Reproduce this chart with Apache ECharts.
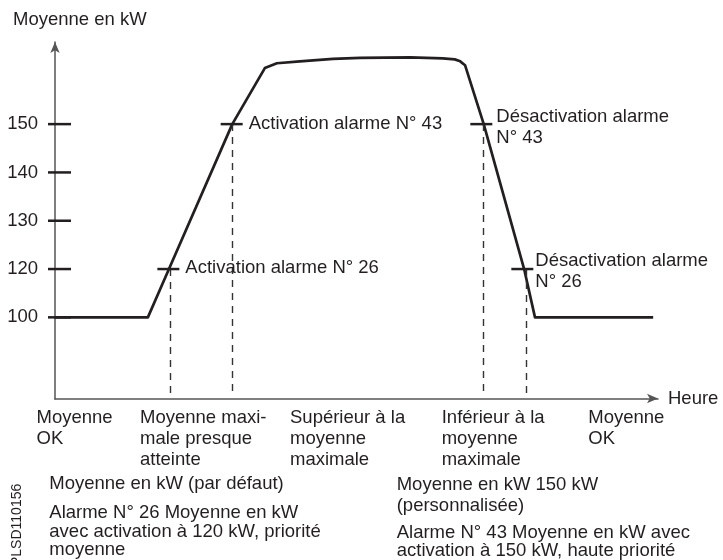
<!DOCTYPE html>
<html>
<head>
<meta charset="utf-8">
<script src="https://cdn.jsdelivr.net/npm/echarts@6/dist/echarts.min.js"></script>
<style>
  html, body { margin: 0; padding: 0; background: #fff; }
  #main { width: 723px; height: 560px; }
</style>
</head>
<body>
<div id="main"></div>
<script>
// temps (unités arbitraires, 0 = origine) et moyenne en kW de la courbe
const curveT  = [0, 15.4, 18.9, 29.4, 34.8, 36.8, 40.6, 46.1, 50.6, 58.9, 64.3, 66.3, 67.2, 68.0, 71.1, 77.8, 79.6, 99.2];
const curveKW = [100, 100, 120, 150, 161.6, 162.6, 163.0, 163.5, 163.7, 163.8, 163.6, 163.4, 163.0, 162.2, 150, 120, 100, 100];

// graduations de l'axe vertical
const yTicks = [100, 120, 130, 140, 150];

// seuils d'alarme (repères sur la courbe)
const alarmT    = [18.8, 29.3, 70.7, 77.5];
const alarmKW   = [120, 150, 150, 120];
const alarmText = ['Activation alarme N° 26', 'Activation alarme N° 43', 'Désactivation alarme\nN° 43', 'Désactivation alarme\nN° 26'];

// pointillés verticaux
const dashT  = [19.1, 29.4, 71.0, 78.1];
const dashKW = [120, 150, 150, 120];

// phases sous l'axe du temps
const phaseText = ['Moyenne\nOK', 'Moyenne maxi-\nmale presque\natteinte', 'Supérieur à la\nmoyenne\nmaximale', 'Inférieur à la\nmoyenne\nmaximale', 'Moyenne\nOK'];

const yMin = 83.2, yMax = 167.0;
const FONT = '"Liberation Sans", Arial, Helvetica, sans-serif';
const FS = 18.5;
const INK = '#231f20';

let myChart = echarts.init(document.getElementById('main'), null, {renderer: 'canvas'});

const phaseLeft = [36.5, 140, 290, 441.7, 588.3];
const txt = (x, y, text, lh) => ({
    type: 'text', left: x, top: y,
    style: { text: text, font: FS + 'px ' + FONT, fill: INK, lineHeight: lh }
});

let graphic = [
    txt(13, 10.5, 'Moyenne en kW', 18),
    // notes du bas
    txt(49.3, 474.4, 'Moyenne en kW (par défaut)', 20),
    txt(49.3, 503.4, 'Alarme N° 26 Moyenne en kW\navec activation à 120 kW, priorité\nmoyenne', 18.6),
    txt(396.7, 474.8, 'Moyenne en kW 150 kW\n(personnalisée)', 20.5),
    txt(396.7, 523.4, 'Alarme N° 43 Moyenne en kW avec\nactivation à 150 kW, haute priorité', 17.6),
    {
        type: 'text', x: 17, y: 566, rotation: Math.PI / 2,
        style: { text: 'PLSD110156', font: '14px ' + FONT, fill: INK, align: 'left', verticalAlign: 'middle' }
    }
];
phaseText.forEach((t, i) => graphic.push(txt(phaseLeft[i], 407.7, t, 20.7)));

const axisLine = {
    show: true,
    symbol: ['none', 'arrow'],
    symbolSize: [7, 11],
    lineStyle: { color: '#555', width: 1.5 }
};

let option = {
    animation: false,
    backgroundColor: '#fff',
    textStyle: { fontFamily: FONT },
    grid: { left: 55, right: 65, top: 42, bottom: 161.5, containLabel: false },
    xAxis: {
        type: 'value', min: 0, max: 100,
        name: 'Heure', nameLocation: 'end', nameGap: 10,
        nameTextStyle: { fontSize: FS, color: INK, fontFamily: FONT, align: 'left', verticalAlign: 'middle' },
        axisLine: axisLine,
        axisTick: { show: false }, axisLabel: { show: false }, splitLine: { show: false }
    },
    yAxis: {
        type: 'value', min: yMin, max: yMax,
        breaks: [{ start: 100, end: 110, gap: 0 }],
        breakArea: { show: false },
        axisLine: axisLine,
        axisTick: { show: false }, axisLabel: { show: false }, splitLine: { show: false }
    },
    graphic: graphic,
    series: [
        {
            name: 'Moyenne',
            type: 'line',
            data: curveT.map((t, i) => [t, curveKW[i]]),
            symbol: 'none',
            clip: false,
            lineStyle: { color: INK, width: 2.7, join: 'round' },
            z: 3,
            markLine: {
                silent: true,
                symbol: ['none', 'none'],
                label: { show: false },
                lineStyle: { color: '#333', width: 1.4, type: [7, 6] },
                data: dashT.map((t, i) => [{ coord: [t, dashKW[i]] }, { coord: [t, yMin + 0.8] }])
            }
        },
        {
            name: 'Graduations',
            type: 'scatter',
            clip: false,
            data: yTicks.map(v => [0, v]),
            symbol: 'rect',
            symbolSize: [23, 2.5],
            symbolOffset: [4.5, 0],
            itemStyle: { color: INK, opacity: 1 },
            label: {
                show: true, position: 'left', distance: 10,
                formatter: p => p.value[1],
                fontSize: FS, color: INK, fontFamily: FONT
            },
            z: 4
        },
        {
            name: 'Alarmes',
            type: 'scatter',
            clip: false,
            data: alarmT.map((t, i) => ({
                value: [t, alarmKW[i]],
                label: { distance: [6, 6, 4, 2][i], offset: [0, [-1, 0, 3, 2][i]] }
            })),
            symbol: 'rect',
            symbolSize: [22, 2.5],
            itemStyle: { color: INK, opacity: 1 },
            label: {
                show: true, position: 'right',
                formatter: p => alarmText[p.dataIndex],
                fontSize: FS, lineHeight: 21, color: INK, fontFamily: FONT
            },
            z: 5
        }
    ]
};
myChart.setOption(option);
</script>
</body>
</html>
